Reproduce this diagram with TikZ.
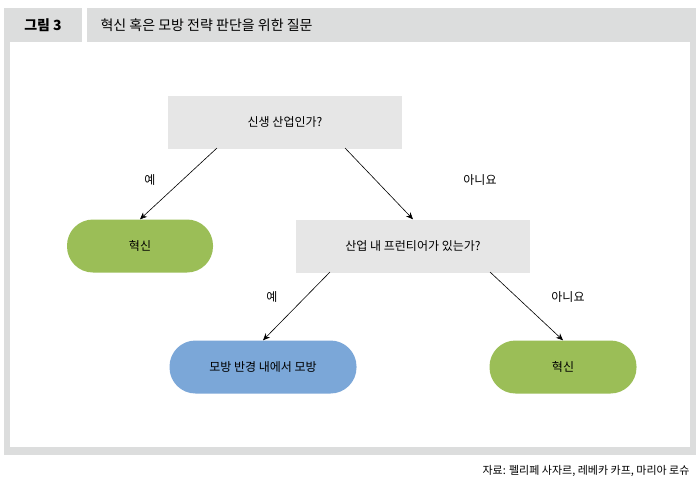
\documentclass[tikz,border=0pt]{standalone}
\usepackage{fontspec}
\setmainfont{Noto Sans CJK KR}
\usetikzlibrary{arrows.meta}
\definecolor{hdr}{HTML}{DCDDDD}
\definecolor{boxg}{HTML}{E6E6E6}
\definecolor{grn}{HTML}{9BBE57}
\definecolor{blu}{HTML}{7BA7D8}
\tikzset{
  qbox/.style={fill=boxg,minimum width=234pt,minimum height=53pt,font=\fontsize{12}{14}\selectfont},
  pill/.style={rounded corners=26pt,minimum height=53pt,font=\fontsize{12}{14}\selectfont},
  arr/.style={-{Stealth[length=7pt,width=6pt]},line width=0.6pt},
  lbl/.style={font=\fontsize{12}{14}\selectfont}
}
\begin{document}
\begin{tikzpicture}[x=1pt,y=-1pt]
\useasboundingbox (0,0) rectangle (700,493);
\fill[hdr] (4,8) rectangle (82,42);
\fill[hdr] (87,8) rectangle (696,42);
\fill[hdr] (4,42) rectangle (696,455);
\fill[white] (10,42) rectangle (690,447);
\node[font=\fontsize{14}{16}\selectfont\bfseries] (fig) at (43,25) {그림 3};
\node[font=\fontsize{14}{16}\selectfont,anchor=west] (title) at (97,25) {혁신 혹은 모방 전략 판단을 위한 질문};
\node[qbox] (q1) at (285,122) {신생 산업인가?};
\node[qbox] (q2) at (413,246) {산업 내 프런티어가 있는가?};
\node[pill,fill=grn,minimum width=146pt] (a1) at (140,246) {혁신};
\node[pill,fill=blu,minimum width=187pt] (a2) at (263,367) {모방 반경 내에서 모방};
\node[pill,fill=grn,minimum width=147pt] (a3) at (563,367) {혁신};
\coordinate (s1) at (217,148); \coordinate (s2) at (345,148);
\coordinate (s3) at (330,272); \coordinate (s4) at (490,272);
\draw[arr] (s1) -- (a1.north);
\draw[arr] (s2) -- (q2.north);
\draw[arr] (s3) -- (a2.north);
\draw[arr] (s4) -- (a3.north);
\node[lbl] (l1) at (150,180) {예};
\node[lbl] (l2) at (480,180) {아니요};
\node[lbl] (l3) at (272,297) {예};
\node[lbl] (l4) at (568,297) {아니요};
\node[font=\fontsize{11}{13}\selectfont,anchor=east] (src) at (693,471) {자료: 펠리페 사자르, 레베카 카프, 마리아 로슈};
\end{tikzpicture}
\end{document}
